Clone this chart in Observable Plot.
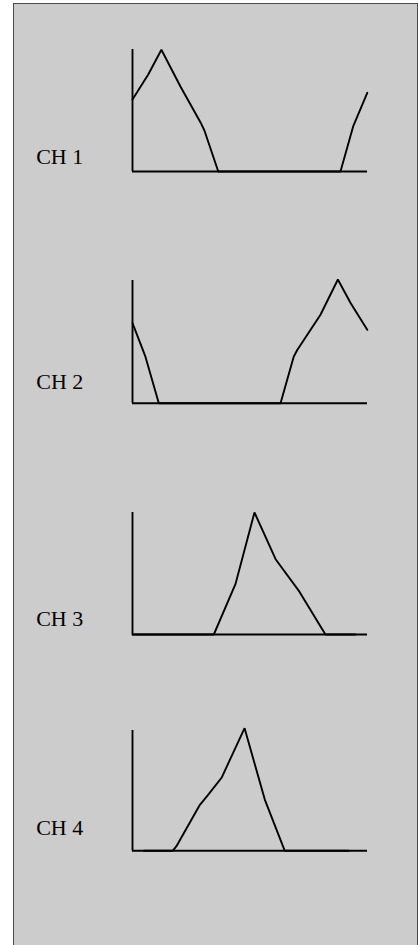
<!DOCTYPE html>
<html>
<head>
<meta charset="utf-8">
<script src="https://cdn.jsdelivr.net/npm/d3@7"></script>
<script src="https://cdn.jsdelivr.net/npm/@observablehq/plot@0.6"></script>
<style>
  html, body { margin: 0; padding: 0; background: #fff; overflow: hidden; }
  #page { position: relative; width: 419px; height: 945px; overflow: hidden; }
  #panel { position: absolute; left: 13px; top: 3px; width: 403px; height: 980px;
           background: #cccccc; border: 1px solid #4a4a4a; box-sizing: content-box; }
  .chart { position: absolute; left: 0; }
  .chart svg { background: transparent !important; overflow: visible; }
</style>
</head>
<body>
<div id="page"><div id="panel"></div></div>
<script>
// ---- data (x: position along the axis 0–100, y: level 0–100 of the axis height) ----
const channels = ["CH 1", "CH 2", "CH 3", "CH 4"];

const ch1X = [0, 6.7, 12.3, 20.4, 28.9, 30.6, 36.5, 88.5, 93.9, 99.9];
const ch1Y = [59.0, 79.5, 99.8, 69.7, 40.4, 33.6, 0, 0, 36.9, 64.5];

const ch2X = [0, 5.5, 11.2, 63.0, 68.6, 70.1, 80.0, 87.4, 92.8, 99.9];
const ch2Y = [65.3, 37.9, 0, 0, 37.9, 43.4, 72.1, 100.8, 81.7, 59.8];

const ch3X = [0, 34.6, 43.8, 51.9, 60.9, 71.1, 82.1, 94.9];
const ch3Y = [0, 0, 41.2, 100, 61.7, 34.9, 0, 0];

const ch4X = [4.8, 17.1, 18.7, 28.5, 32.0, 37.9, 47.7, 56.3, 64.8, 92.0];
const ch4Y = [0, 0, 3.8, 37.7, 46.0, 60.7, 101.9, 42.6, 0, 0];

const seriesX = [ch1X, ch2X, ch3X, ch4X];
const seriesY = [ch1Y, ch2Y, ch3Y, ch4Y];

// ---- layout (pixels) ----
const axisTop    = [49, 280.3, 512.3, 730];
const axisBottom = [171, 403, 634.3, 850.3];
const labelBaseline = [163.3, 389.3, 626, 834.3];
const plotLeft = 132, plotRight = 367, labelLeft = 35.7, pad = 20;

const page = document.getElementById("page");

channels.forEach((name, i) => {
  const data = seriesX[i].map((x, k) => ({x, y: seriesY[i][k]}));
  const h = axisBottom[i] - axisTop[i];
  const chart = Plot.plot({
    width: 419,
    height: h + 2 * pad,
    marginLeft: plotLeft,
    marginRight: 419 - plotRight,
    marginTop: pad,
    marginBottom: pad,
    x: {domain: [0, 100], axis: null},
    y: {domain: [0, 100], axis: null},
    style: {background: "transparent", overflow: "visible"},
    marks: [
      Plot.ruleX([0], {y1: 0, y2: 100, stroke: "#000", strokeWidth: 1.9}),
      Plot.ruleY([0], {x1: 0, x2: 100, stroke: "#000", strokeWidth: 1.9}),
      Plot.line(data, {x: "x", y: "y", stroke: "#000", strokeWidth: 1.9, strokeLinejoin: "miter"}),
      Plot.text([name], {
        frameAnchor: "bottom-left",
        text: d => d,
        textAnchor: "start",
        lineAnchor: "bottom",
        dx: labelLeft - plotLeft,
        dy: labelBaseline[i] - axisBottom[i],
        fontFamily: "Liberation Serif, Times New Roman, serif",
        fontSize: 22,
        fill: "#000"
      })
    ]
  });
  const wrap = document.createElement("div");
  wrap.className = "chart";
  wrap.style.top = (axisTop[i] - pad) + "px";
  wrap.appendChild(chart);
  page.appendChild(wrap);
});
</script>
</body>
</html>
